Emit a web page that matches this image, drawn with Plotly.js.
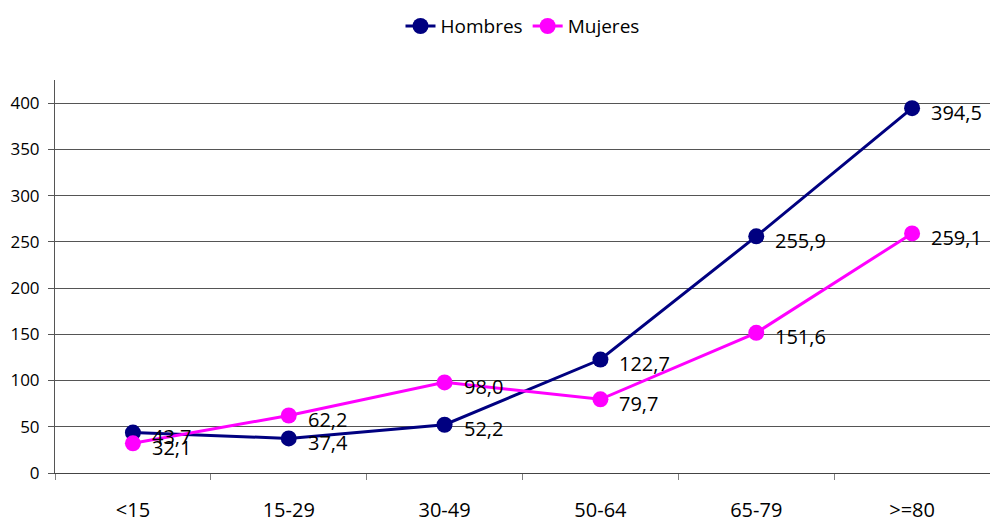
<!DOCTYPE html>
<html>
<head>
<meta charset="utf-8">
<script src="https://cdn.plot.ly/plotly-3.0.1.min.js"></script>
<style>html,body{margin:0;padding:0;background:#fff;}#chart{width:990px;height:522px;}</style>
</head>
<body>
<div id="chart"></div>
<script>
var categories = ['<15', '15-29', '30-49', '50-64', '65-79', '>=80'];
var hombres = [43.7, 37.4, 52.2, 122.7, 255.9, 394.5];
var mujeres = [32.1, 62.2, 98.0, 79.7, 151.6, 259.1];
var yTicks = [0, 50, 100, 150, 200, 250, 300, 350, 400];

var FONT = 'Open Sans, Lato, sans-serif';
function fmt(v) { return v.toFixed(1).replace('.', ','); }

var traces = [
  {
    x: categories, y: hombres, name: 'Hombres', type: 'scatter', mode: 'lines+markers',
    line: {color: '#000080', width: 3}, marker: {color: '#000080', size: 16}
  },
  {
    x: categories, y: mujeres, name: 'Mujeres', type: 'scatter', mode: 'lines+markers',
    line: {color: '#FF00FF', width: 3}, marker: {color: '#FF00FF', size: 16}
  }
];

var annotations = [];
[hombres, mujeres].forEach(function (series) {
  series.forEach(function (v, i) {
    annotations.push({
      x: categories[i], y: v, xref: 'x', yref: 'y', text: fmt(v), showarrow: false,
      xanchor: 'left', yanchor: 'middle', xshift: 17, yshift: -4,
      font: {family: FONT, size: 20, color: '#000'}
    });
  });
});

var layout = {
  width: 990, height: 522,
  margin: {l: 55, r: 0, t: 80, b: 49},
  paper_bgcolor: '#fff', plot_bgcolor: '#fff',
  font: {family: FONT, size: 17, color: '#000'},
  showlegend: true,
  legend: {
    orientation: 'h', x: 0.5, xanchor: 'center', y: 1.137, yanchor: 'middle',
    font: {family: FONT, size: 19, color: '#000'}, itemwidth: 30, tracegroupgap: 0
  },
  xaxis: {
    type: 'category', range: [-0.5, 5.5], tickson: 'boundaries',
    ticks: 'outside', ticklen: 6, tickcolor: '#808080', tickwidth: 1,
    showline: true, linecolor: '#444', linewidth: 1,
    showgrid: false, zeroline: false, ticklabelstandoff: 19,
    tickfont: {family: FONT, size: 20, color: '#000'}
  },
  yaxis: {
    range: [0, 425], tickmode: 'array', tickvals: yTicks, ticktext: yTicks.map(String),
    ticks: 'outside', ticklen: 6, tickcolor: '#555', tickwidth: 1,
    showline: true, linecolor: '#555', linewidth: 1,
    showgrid: true, gridcolor: '#555', gridwidth: 1, zeroline: false,
    ticklabelstandoff: 5,
    tickfont: {family: FONT, size: 17, color: '#000'}
  },
  annotations: annotations
};

Plotly.newPlot('chart', traces, layout, {displayModeBar: false, staticPlot: true});
</script>
</body>
</html>
